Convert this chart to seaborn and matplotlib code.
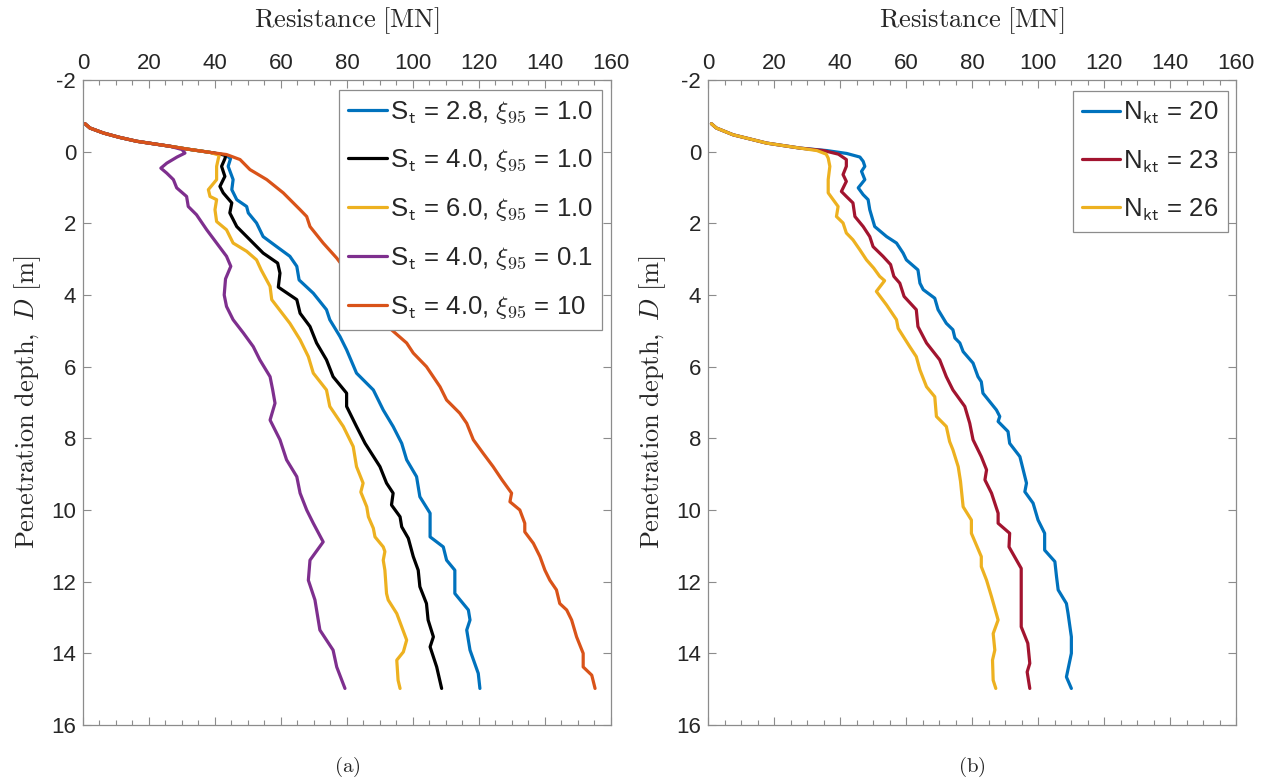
import matplotlib
matplotlib.use("Agg")
import matplotlib.pyplot as plt
import seaborn as sns
from matplotlib.ticker import MultipleLocator

# ---- data ----
# shared top part (panel a)
top_d_a = [-0.78, -0.66, -0.52, -0.40, -0.29, -0.15]
top_r_a = [0.6, 2.1, 6.2, 11.0, 16.3, 26.4]

# panel (a): St / xi95 variations
blue_d = [-0.075, 0.02, 0.10, 0.20, 0.41, 0.78, 1.06, 1.34, 1.53, 1.71, 1.99, 2.37, 2.65, 2.92, 3.20, 3.58,
          3.95, 4.41, 4.69, 5.16, 5.53, 6.18, 6.65, 7.21, 7.67, 8.14, 8.60, 9.07, 9.63, 10.09, 10.75, 11.03,
          11.40, 11.68, 12.33, 12.79, 13.07, 13.35, 13.91, 14.56, 14.98]
blue_r = [31.4, 38.5, 43.5, 44.7, 44.0, 45.5, 45.1, 46.6, 49.6, 50.1, 52.6, 54.6, 58.7, 62.7, 64.8, 65.5,
          69.8, 73.8, 74.8, 77.9, 79.9, 82.9, 88.0, 91.0, 94.0, 96.6, 98.1, 101.1, 102.1, 105.2, 105.2, 109.2,
          110.2, 112.7, 112.7, 116.8, 117.3, 116.3, 117.3, 119.8, 120.3]

black_d = [-0.075, 0.02, 0.10, 0.20, 0.41, 0.69, 0.97, 1.15, 1.43, 1.71, 2.09, 2.46, 2.83, 3.11, 3.39, 3.78,
           4.13, 4.51, 4.88, 5.34, 5.81, 6.28, 6.74, 7.11, 7.67, 8.14, 8.79, 9.25, 9.53, 9.86, 10.19, 10.47,
           10.79, 11.30, 11.68, 12.14, 12.61, 13.07, 13.54, 13.82, 14.38, 14.98]
black_r = [31.4, 38.5, 43.3, 43.0, 42.0, 43.0, 41.5, 42.5, 45.1, 44.5, 46.6, 50.6, 54.6, 59.0, 59.7, 59.2,
           64.8, 65.8, 68.8, 70.8, 73.8, 75.8, 79.9, 79.9, 82.9, 85.5, 90.0, 92.0, 94.0, 93.5, 96.1, 96.6,
           98.6, 100.1, 101.6, 102.1, 104.1, 104.6, 106.2, 105.2, 107.2, 108.7]

yellow_d = [-0.075, 0.02, 0.10, 0.20, 0.41, 0.78, 1.06, 1.25, 1.34, 1.62, 1.95, 2.18, 2.55, 2.78, 3.02, 3.30,
            3.76, 4.13, 4.79, 5.25, 5.72, 6.18, 6.65, 7.11, 7.67, 8.23, 8.79, 9.25, 9.50, 9.91, 10.19, 10.51,
            10.75, 11.03, 11.16, 11.40, 11.68, 12.33, 12.51, 12.89, 13.26, 13.63, 13.96, 14.19, 14.75, 14.98]
yellow_r = [31.4, 38.5, 41.3, 41.0, 40.5, 40.5, 38.0, 38.5, 40.5, 40.0, 40.5, 43.5, 45.5, 49.6, 52.6, 54.0,
            56.7, 57.2, 62.7, 65.8, 68.3, 69.8, 73.8, 74.8, 78.9, 81.9, 82.9, 84.9, 84.2, 86.0, 86.5, 88.0,
            88.5, 91.0, 91.5, 91.0, 91.5, 92.0, 92.5, 95.1, 96.6, 98.1, 97.1, 95.1, 95.5, 96.1]

purple_d = [-0.06, 0.04, 0.15, 0.32, 0.46, 0.60, 0.78, 1.01, 1.25, 1.53, 1.76, 2.18, 2.55, 2.92, 3.20, 3.55,
            4.00, 4.32, 4.69, 5.06, 5.44, 5.81, 6.28, 6.65, 7.02, 7.49, 8.04, 8.60, 9.07, 9.53, 10.0, 10.37,
            10.89, 11.40, 11.96, 12.51, 13.35, 13.91, 14.38, 14.98]
purple_r = [30.0, 30.9, 28.5, 25.4, 23.6, 25.4, 27.4, 28.4, 31.4, 31.9, 34.4, 37.5, 40.5, 43.5, 44.8, 43.2,
            42.8, 43.5, 45.5, 48.6, 51.6, 53.6, 56.7, 57.5, 58.2, 56.7, 59.7, 61.7, 64.8, 65.8, 67.8, 69.8,
            72.8, 68.8, 68.3, 70.3, 71.8, 75.8, 76.9, 79.4]

orange_d = [-0.075, 0.02, 0.08, 0.22, 0.50, 0.78, 1.15, 1.62, 1.81, 2.09, 2.55, 2.97, 4.93, 5.34, 5.62, 6.00,
            6.56, 6.93, 7.30, 7.58, 8.04, 8.42, 8.79, 9.16, 9.53, 9.77, 10.0, 10.37, 10.61, 10.93, 11.30,
            11.68, 11.96, 12.23, 12.61, 12.79, 13.07, 13.54, 14.00, 14.38, 14.61, 14.98]
orange_r = [31.4, 38.5, 43.5, 47.6, 50.6, 55.7, 60.7, 65.8, 67.8, 68.8, 72.8, 76.9, 93.0, 98.1, 100.1, 104.1,
            108.2, 110.2, 114.2, 116.3, 118.3, 121.3, 124.3, 127.0, 129.9, 129.4, 132.4, 133.9, 133.9, 136.5,
            138.5, 140.0, 141.5, 143.5, 144.5, 146.6, 148.1, 149.6, 151.6, 151.6, 154.2, 155.2]

# panel (b): Nkt variations
top_d_b = [-0.78, -0.66, -0.47, -0.24, -0.10]
top_r_b = [1.0, 2.5, 7.6, 17.7, 27.8]

n20_d = [-0.03, 0.05, 0.15, 0.27, 0.41, 0.55, 0.78, 1.01, 1.20, 1.34, 1.62, 2.09, 2.37, 2.55, 2.83, 3.02,
         3.30, 3.67, 3.85, 4.09, 4.41, 4.79, 4.97, 5.20, 5.34, 5.58, 5.90, 6.28, 6.42, 6.74, 7.21, 7.39,
         7.53, 7.81, 8.14, 8.51, 8.88, 9.25, 9.49, 9.81, 10.28, 10.65, 11.12, 11.44, 11.86, 12.23, 12.61,
         12.89, 13.54, 14.00, 14.66, 14.98]
n20_r = [36.0, 42.0, 46.0, 47.0, 47.5, 46.5, 47.5, 45.5, 47.0, 48.5, 49.0, 50.5, 54.1, 57.1, 59.1, 60.1,
         63.6, 64.2, 65.2, 68.7, 69.7, 72.2, 74.2, 74.8, 76.3, 77.3, 80.3, 81.8, 82.8, 83.3, 87.4, 88.4,
         87.9, 90.9, 91.4, 94.5, 95.5, 96.5, 96.0, 98.5, 100.0, 102.0, 102.0, 105.1, 105.6, 106.1, 108.6,
         109.1, 110.1, 110.1, 108.6, 110.1]

n23_d = [-0.03, 0.07, 0.22, 0.41, 0.64, 0.83, 1.11, 1.25, 1.43, 1.81, 2.09, 2.37, 2.65, 2.92, 3.15, 3.48,
         3.67, 4.04, 4.41, 4.88, 5.34, 5.81, 6.28, 6.65, 7.11, 7.58, 8.04, 8.51, 8.88, 9.16, 9.53, 10.09,
         10.37, 10.65, 11.03, 11.63, 12.33, 13.26, 13.72, 14.28, 14.52, 14.98]
n23_r = [35.0, 39.5, 41.9, 41.9, 40.9, 41.9, 40.4, 41.9, 43.9, 44.5, 47.0, 49.0, 50.0, 53.0, 55.3, 56.3,
         58.1, 59.4, 63.1, 63.6, 66.2, 70.2, 72.2, 74.2, 77.8, 79.3, 80.3, 82.8, 84.4, 83.9, 85.9, 87.9,
         87.9, 91.4, 91.2, 94.9, 94.9, 94.9, 96.9, 97.5, 96.7, 97.5]

n26_d = [-0.03, 0.07, 0.18, 0.41, 0.78, 1.15, 1.34, 1.53, 1.81, 1.99, 2.27, 2.46, 2.74, 3.02, 3.25, 3.48,
         3.60, 3.90, 4.28, 4.69, 4.93, 5.44, 5.72, 6.09, 6.56, 6.84, 7.39, 7.67, 8.09, 8.32, 8.79, 9.20,
         9.91, 10.28, 10.65, 11.30, 11.58, 11.96, 12.42, 13.07, 13.45, 13.91, 14.19, 14.75, 14.98]
n26_r = [33.0, 35.8, 36.4, 36.9, 36.4, 36.4, 37.9, 39.4, 38.9, 40.9, 41.9, 43.9, 46.0, 48.0, 50.2, 52.0,
         53.5, 51.0, 54.1, 57.1, 57.6, 61.1, 63.1, 64.2, 66.2, 68.7, 69.2, 72.2, 73.2, 74.2, 75.8, 76.5,
         77.3, 79.8, 79.8, 82.8, 82.8, 84.4, 85.9, 87.9, 86.4, 86.9, 86.2, 86.4, 87.2]

labels_a = [r"S$_\mathsf{t}$ = 2.8, $\xi_\mathsf{95}$ = 1.0",
            r"S$_\mathsf{t}$ = 4.0, $\xi_\mathsf{95}$ = 1.0",
            r"S$_\mathsf{t}$ = 6.0, $\xi_\mathsf{95}$ = 1.0",
            r"S$_\mathsf{t}$ = 4.0, $\xi_\mathsf{95}$ = 0.1",
            r"S$_\mathsf{t}$ = 4.0, $\xi_\mathsf{95}$ = 10"]
labels_b = [r"N$_\mathsf{kt}$ = 20", r"N$_\mathsf{kt}$ = 23", r"N$_\mathsf{kt}$ = 26"]

colors_a = ["#0072BD", "#000000", "#EDB120", "#7E2F8E", "#D95319"]
colors_b = ["#0072BD", "#A2142F", "#EDB120"]

# ---- style ----
sns.set_style("ticks")
plt.rcParams['font.family'] = ['Liberation Sans', 'DejaVu Sans']
plt.rcParams['mathtext.fontset'] = 'cm'
plt.rcParams['axes.unicode_minus'] = False

fig = plt.figure(figsize=(12.69, 7.82), dpi=100)
ax1 = fig.add_axes([0.0654, 0.0729, 0.416, 0.8248])
ax2 = fig.add_axes([0.558, 0.0729, 0.416, 0.8248])

curves_a = [(top_d_a + blue_d, top_r_a + blue_r),
            (top_d_a + black_d, top_r_a + black_r),
            (top_d_a + yellow_d, top_r_a + yellow_r),
            (top_d_a + purple_d, top_r_a + purple_r),
            (top_d_a + orange_d, top_r_a + orange_r)]
curves_b = [(top_d_b + n20_d, top_r_b + n20_r),
            (top_d_b + n23_d, top_r_b + n23_r),
            (top_d_b + n26_d, top_r_b + n26_r)]

for (d, r), c, lab in zip(curves_a, colors_a, labels_a):
    sns.lineplot(x=r, y=d, sort=False, estimator=None, color=c, lw=2.3, label=lab, ax=ax1)
for (d, r), c, lab in zip(curves_b, colors_b, labels_b):
    sns.lineplot(x=r, y=d, sort=False, estimator=None, color=c, lw=2.3, label=lab, ax=ax2)

spine_col = "#8c8c8c"
for ax, lab in [(ax1, "(a)"), (ax2, "(b)")]:
    ax.set_xlim(0, 160)
    ax.set_ylim(16, -2)
    ax.xaxis.set_major_locator(MultipleLocator(20))
    ax.xaxis.set_minor_locator(MultipleLocator(5))
    ax.yaxis.set_major_locator(MultipleLocator(2))
    ax.xaxis.tick_top()
    ax.xaxis.set_label_position("top")
    ax.tick_params(axis='x', which='both', direction='in', top=True, bottom=True,
                   labeltop=True, labelbottom=False, colors=spine_col, labelcolor="#262626",
                   labelsize=16, pad=4)
    ax.tick_params(axis='x', which='major', length=6, width=0.8)
    ax.tick_params(axis='x', which='minor', length=3.5, width=0.8)
    ax.tick_params(axis='y', which='major', direction='in', left=True, right=True,
                   length=6, width=0.8, colors=spine_col, labelcolor="#262626", labelsize=16, pad=5)
    for s in ax.spines.values():
        s.set_visible(True)
        s.set_color(spine_col)
        s.set_linewidth(0.9)
    ax.set_xlabel(r"$\mathrm{Resistance\ [MN]}$", fontsize=19, labelpad=19, color="#262626")
    ax.set_ylabel(r"$\mathrm{Penetration\ depth,}\ D\ \mathrm{[m]}$", fontsize=19, labelpad=6,
                  color="#262626")
    pos = ax.get_position()
    fig.text((pos.x0 + pos.x1) / 2, 0.004, r"$\mathrm{" + lab + "}$", ha='center', va='bottom',
             fontsize=15, color="#262626")

for ax, anchor in [(ax1, (0.983, 0.985)), (ax2, (0.985, 0.983))]:
    leg = ax.legend(loc='upper right', bbox_to_anchor=anchor, borderaxespad=0, fontsize=18.5,
                    handlelength=1.5, handletextpad=0.12, labelspacing=0.85, borderpad=0.35,
                    fancybox=False, framealpha=1, edgecolor=spine_col)
    leg.get_frame().set_linewidth(0.9)

fig.savefig("out.png", dpi=100)
